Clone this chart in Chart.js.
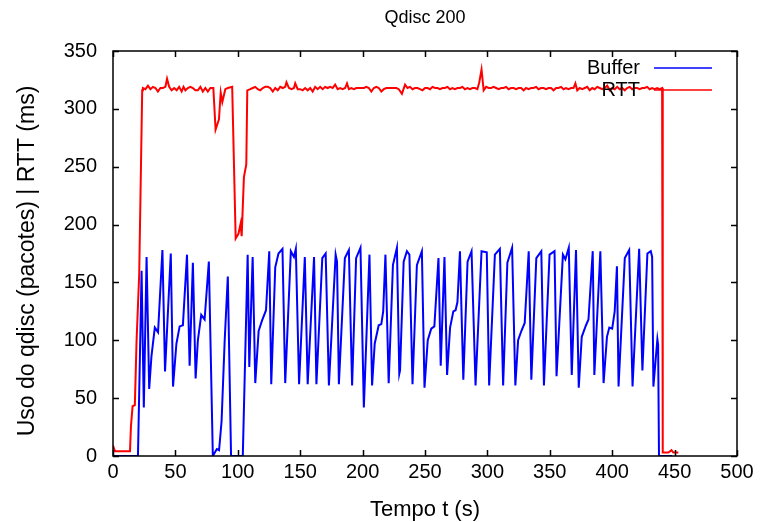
<!DOCTYPE html>
<html>
<head>
<meta charset="utf-8">
<script src="https://cdn.jsdelivr.net/npm/chart.js@4.4.1/dist/chart.umd.min.js"></script>
<style>
  html, body { margin: 0; padding: 0; background: #fff; }
  #wrap { width: 760px; height: 522px; }
</style>
</head>
<body>
<div id="wrap"><canvas id="qdisc"></canvas></div>
<script>
// Buffer (pacotes) - tempo / valor
var bufferTime = [0, 20, 22.9, 24.7, 26.9, 29, 30.8, 33.5, 36.1, 39.6, 41.7, 46.3, 48.1, 50.8, 53.4, 56, 59.3, 61.4, 64, 66.2, 68, 70.7, 73.4, 76.8, 80, 83.2, 85, 87, 89.5, 92, 94.6, 104,
  107.9, 109.2, 111.9, 114, 116.7, 119.4, 122.6, 125.2, 126.8, 130, 132.6, 135.8, 138, 142.5, 145, 146.5, 149.1, 153.7, 156, 161.1, 163, 167.7, 170.4, 173, 178.4, 179.5, 181,
  185.8, 189, 191.6, 194.8, 198.3, 201, 205.5, 207.6, 209.7, 212.9, 215, 216.5, 218.3, 220.9, 224.3, 227.5, 229.4, 230, 232.9, 235.5, 237.5, 240, 243.5, 247.5, 249.6,
  252.2, 255, 257.5, 260.8, 262.6, 265.6, 267.7, 270.1, 272.7, 274.5, 276, 278, 280.7, 284.1, 287.3, 290.5, 295.3, 299.5, 301.4, 306, 310, 312.6, 316, 319.8, 322.4,
  324.6, 327.2, 329.9, 333.1, 335.2, 339.2, 343.2, 345.3, 349.8, 353.8, 355.4, 360.5, 362.5, 365.2, 367.6, 371, 373.2, 375.6, 379, 381, 384.4, 385.7, 390.5, 393.1,
  395.8, 397.7, 400, 402, 403.8, 405.1, 410.1, 413.6, 416.3, 421.6, 424.2, 428.2, 430.9, 432, 433, 436.2, 436.8, 437.5, 448];
var bufferValues = [0, 0, 160, 42, 172, 58, 86, 111, 107, 178, 73, 175, 60, 97, 112, 113, 174, 78, 167, 67, 100, 122, 118, 168, 0, 6, 5, 30, 100, 155, 0, 0,
  174, 77, 172, 63, 108, 117, 126, 177, 62, 163, 175, 179, 63, 177, 172, 179, 62, 172, 62, 172, 62, 171, 175, 61, 174, 168, 62,
  171, 178, 61, 171, 180, 42, 174, 61, 97, 113, 114, 125, 174, 63, 165, 180, 71, 74, 168, 177, 174, 62, 165, 177, 59,
  100, 110, 112, 171, 78, 172, 70, 111, 125, 126, 133, 177, 66, 168, 177, 61, 177, 176, 61, 174, 179, 61, 167, 180, 61,
  100, 108, 115, 177, 66, 171, 177, 61, 174, 177, 69, 174, 170, 180, 70, 178, 59, 103, 113, 118, 177, 70, 177, 63,
  103, 111, 110, 125, 164, 60, 171, 178, 60, 179, 74, 175, 177, 172, 60, 101, 96, 0, 0];

// RTT (ms) - tempo / valor
var rttTime = [0, 1.6, 13.6, 14.4, 15.7, 17.5, 18.9, 21, 23.4, 24, 26, 28, 30, 32, 34, 36, 38, 40, 42, 43.3, 45, 47, 49, 51, 53, 55, 56.5, 58, 60, 62, 64, 66, 68, 70, 72, 74, 76, 78,
  80.4, 82.2, 84.9, 86.3, 87.6, 90, 92, 95.5, 98.3, 100.5, 102.3, 103.1, 104.9, 106.8, 107.6,
  110, 112, 114, 116, 118, 120, 122, 124, 126, 128, 130, 132, 134, 136, 138, 139, 141, 143, 145, 146, 148, 150, 152, 154, 156, 158, 160, 162, 164, 166, 168, 170, 172, 174, 176, 178,
  180, 182, 184, 186, 187.5, 189, 191, 193, 195, 197, 199, 201, 203, 205, 207, 209, 211, 213, 215, 217, 219, 221, 223, 225, 227, 229, 231.5, 234, 236, 238, 240, 242, 244, 246, 248,
  250, 252, 254, 256, 258, 260, 262, 264, 266, 268, 270, 272, 274, 276, 278, 280, 282, 284, 286, 288, 290, 292, 293.5, 295.3, 297, 299, 301, 303, 305, 307, 309, 311, 313, 315, 317,
  319, 321, 323, 325, 327, 329, 331, 333, 335, 337, 339, 341, 343, 345, 347, 349, 351, 353, 355, 357, 359, 361, 363, 365, 367, 369, 370.5, 372, 374, 376, 378, 380, 382, 384, 386, 388,
  390, 392, 394, 396, 398, 400, 402, 404, 406, 408, 410, 412, 414, 416, 418, 420, 422, 424, 426, 428, 430, 432, 434, 436, 438, 440, 440.5, 445, 447.5, 449, 453];
var rttValues = [9, 4, 4, 26, 43, 44, 100, 157, 316, 318, 317, 320, 317, 319, 318, 315, 318, 318, 319, 326, 319, 316, 318, 316, 319, 315, 319, 316, 318, 319, 318, 316, 316, 319, 315, 318, 315, 318,
  318, 282, 291, 314, 306, 317, 318, 319, 188, 192, 201, 190, 241, 252, 316,
  317, 318, 319, 317, 316, 318, 319, 319, 318, 315, 318, 316, 319, 318, 319, 323, 318, 317, 318, 322, 317, 317, 316, 318, 316, 318, 315, 319, 317, 319, 317, 319, 318, 319, 318, 321,
  317, 318, 317, 318, 322, 317, 318, 317, 318, 318, 318, 318, 319, 318, 315, 318, 319, 318, 315, 317, 318, 318, 318, 318, 318, 317, 313, 321, 318, 319, 317, 318, 318, 317, 316,
  318, 318, 317, 319, 318, 318, 317, 318, 318, 319, 317, 318, 317, 318, 318, 319, 317, 318, 317, 318, 318, 317, 323, 334, 316, 319, 318, 318, 319, 318, 317, 318, 318, 319, 317,
  318, 318, 317, 318, 318, 316, 318, 317, 318, 318, 319, 317, 318, 318, 317, 318, 318, 316, 318, 318, 319, 317, 318, 317, 318, 318, 322, 316, 318, 317, 318, 319, 316, 318, 317, 319,
  318, 317, 318, 320, 316, 318, 317, 319, 317, 318, 316, 318, 319, 317, 318, 318, 317, 318, 318, 319, 317, 318, 317, 318, 317, 318, 3, 3, 5, 3, 3];

var xTicks = [0, 50, 100, 150, 200, 250, 300, 350, 400, 450, 500];
var yTicks = [0, 50, 100, 150, 200, 250, 300, 350];

var FONT = "'Liberation Sans', Arial, Helvetica, sans-serif";
Chart.defaults.font.family = FONT;
Chart.defaults.color = '#000';

function toPoints(xs, ys) {
  return xs.map(function(x, i) { return { x: x, y: ys[i] }; });
}

// gnuplot style: ticks on all 4 sides, pointing inwards, plus the frame
var frameTicks = {
  id: 'frameTicks',
  afterDatasetsDraw: function(chart) {
    var ctx = chart.ctx, a = chart.chartArea;
    var xs = chart.scales.x, ys = chart.scales.y;
    var len = 6;
    ctx.save();
    ctx.strokeStyle = '#000';
    ctx.lineWidth = 1.5;
    ctx.beginPath();
    xTicks.forEach(function(v) {
      var px = Math.round(xs.getPixelForValue(v)) + 0.5;
      ctx.moveTo(px, a.bottom); ctx.lineTo(px, a.bottom - len);
      ctx.moveTo(px, a.top); ctx.lineTo(px, a.top + len);
    });
    yTicks.forEach(function(v) {
      var py = Math.round(ys.getPixelForValue(v)) + 0.5;
      ctx.moveTo(a.left, py); ctx.lineTo(a.left + len, py);
      ctx.moveTo(a.right, py); ctx.lineTo(a.right - len, py);
    });
    ctx.stroke();
    ctx.strokeRect(a.left, a.top, a.right - a.left, a.bottom - a.top);
    ctx.restore();
  }
};

// title centred over the plot area, y label, legend drawn like gnuplot (label, then line sample)
var keyBox = {
  id: 'keyBox',
  afterDraw: function(chart) {
    var ctx = chart.ctx, a = chart.chartArea;
    ctx.save();
    ctx.fillStyle = '#000';
    ctx.font = '18px ' + FONT;
    ctx.textAlign = 'center';
    ctx.textBaseline = 'middle';
    ctx.fillText('Qdisc 200', (a.left + a.right) / 2, 18);

    ctx.save();
    ctx.translate(28, 261);
    ctx.rotate(-Math.PI / 2);
    ctx.font = '23px ' + FONT;
    ctx.fillText('Uso do qdisc (pacotes) | RTT (ms)', 0, 0);
    ctx.restore();

    var rows = [
      { label: 'Buffer', color: '#0000ff', y: 68 },
      { label: 'RTT', color: '#ff0000', y: 90 }
    ];
    rows.forEach(function(r) {
      ctx.strokeStyle = r.color;
      ctx.lineWidth = 1.5;
      ctx.beginPath();
      ctx.moveTo(654, r.y); ctx.lineTo(712, r.y);
      ctx.stroke();
      ctx.fillStyle = '#000';
      ctx.font = '20px ' + FONT;
      ctx.textAlign = 'right';
      ctx.fillText(r.label, 640, r.y);
    });
    ctx.restore();
  }
};

new Chart(document.getElementById('qdisc'), {
  type: 'line',
  data: {
    datasets: [
      {
        label: 'Buffer',
        data: toPoints(bufferTime, bufferValues),
        borderColor: '#0000ff',
        borderWidth: 2,
        pointRadius: 0,
        tension: 0,
        order: 1
      },
      {
        label: 'RTT',
        data: toPoints(rttTime, rttValues),
        borderColor: '#ff0000',
        borderWidth: 2,
        pointRadius: 0,
        tension: 0,
        order: 0
      }
    ]
  },
  options: {
    responsive: true,
    maintainAspectRatio: false,
    animation: false,
    layout: { padding: { left: 0, right: 23, top: 51, bottom: 0 } },
    plugins: {
      legend: { display: false },
      tooltip: { enabled: false },
      title: { display: false }
    },
    scales: {
      x: {
        type: 'linear',
        min: 0,
        max: 500,
        afterFit: function(s) { s.height = 66; },
        afterBuildTicks: function(s) { s.ticks = xTicks.map(function(v) { return { value: v }; }); },
        grid: { display: false, drawTicks: false },
        border: { display: false },
        ticks: { font: { size: 20 }, padding: 4, maxRotation: 0, autoSkip: false },
        title: { display: true, text: 'Tempo t (s)', font: { size: 22 }, padding: { top: 0, bottom: -1 } }
      },
      y: {
        type: 'linear',
        min: 0,
        max: 350,
        afterFit: function(s) { s.width = 113; },
        afterBuildTicks: function(s) { s.ticks = yTicks.map(function(v) { return { value: v }; }); },
        grid: { display: false, drawTicks: false },
        border: { display: false },
        ticks: { font: { size: 20 }, padding: 16, autoSkip: false },
        title: { display: false }
      }
    }
  },
  plugins: [frameTicks, keyBox]
});
</script>
</body>
</html>
